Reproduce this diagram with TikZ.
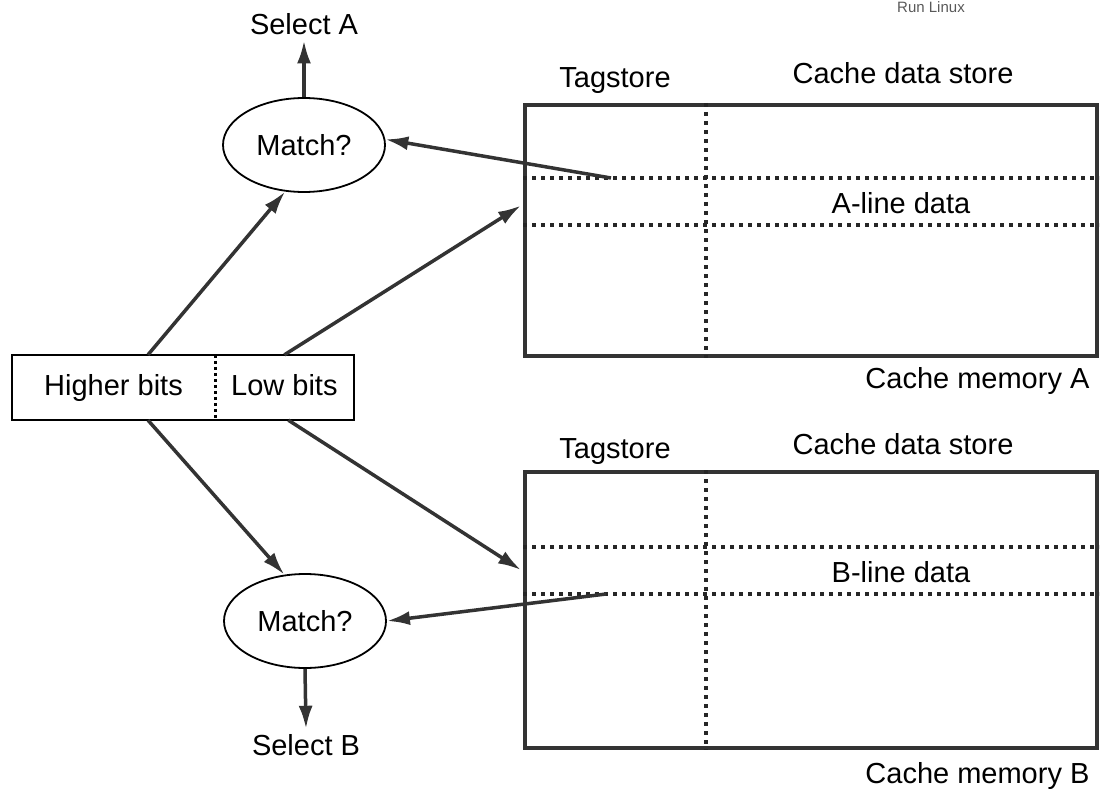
\documentclass[tikz,border=0pt]{standalone}
\usepackage{fontspec}
\setmainfont{Liberation Sans}
\usetikzlibrary{arrows,arrows.meta,shapes,positioning,calc}

\begin{document}
\begin{tikzpicture}[x=1pt,y=-1pt,
	every node/.style={font=\fontsize{29}{34}\selectfont},
	conn/.style={-{Latex[length=23pt,width=14pt]},line width=3.5pt,draw=black!80},
	cachebox/.style={draw=black!80,line width=4pt,minimum width=572pt,inner sep=0pt},
	dotline/.style={line width=4pt,draw=black!85,dash pattern=on 4pt off 5pt},
	matchnode/.style={ellipse,draw,line width=1.8pt,minimum width=162pt,minimum height=94pt,inner sep=0pt},
	bitnode/.style={minimum height=65pt,inner sep=0pt,text height=21pt,text depth=6pt}]
	
	\useasboundingbox (0,0) rectangle (1101,789);
	
	% the two cache memories
	\node[cachebox,minimum height=251pt] (cacheA) at (811,230.5) {};
	\node[cachebox,minimum height=276pt] (cacheB) at (811,610) {};
	
	% tag / data split and the selected line
	\draw[dotline] ($(cacheA.north west)+(183,0)$) -- ($(cacheA.south west)+(183,0)$);
	\draw[dotline] ($(cacheA.north west)+(0,75)$) -- ($(cacheA.north east)+(0,75)$);
	\draw[dotline] ($(cacheA.north west)+(0,122)$) -- ($(cacheA.north east)+(0,122)$);
	\draw[dotline] ($(cacheB.north west)+(183,0)$) -- ($(cacheB.south west)+(183,0)$);
	\draw[dotline] ($(cacheB.north west)+(0,77)$) -- ($(cacheB.north east)+(0,77)$);
	\draw[dotline] ($(cacheB.north west)+(0,124)$) -- ($(cacheB.north east)+(0,124)$);
	\coordinate (tagA) at ($(cacheA.north west)+(88,75)$);
	\coordinate (tagB) at ($(cacheB.north west)+(83,124)$);
	\coordinate (inA) at ($(cacheA.west)+(-2,-25)$);
	\coordinate (inB) at ($(cacheB.west)+(-2,-40)$);
	
	\node[anchor=base] (tagsA) at (615,88) {Tagstore};
	\node[anchor=base] (dataA) at (903,84) {Cache data store};
	\node (lineA) at (901,203.5) {A-line data};
	\node[anchor=base east] (memA) at (1093,388) {Cache memory A};
	\node[anchor=base] (tagsB) at (615,458) {Tagstore};
	\node[anchor=base] (dataB) at (903,454) {Cache data store};
	\node (lineB) at (901,572.5) {B-line data};
	\node[anchor=base east] (memB) at (1093,783) {Cache memory B};
	
	% address split into higher and low bits
	\node[bitnode,minimum width=203pt] (hb) at (113.5,387.5) {Higher bits};
	\node[bitnode,minimum width=138pt,right=0pt of hb] (lb) {Low bits};
	\draw[line width=1.8pt] (hb.north west) rectangle (lb.south east);
	\draw[line width=3pt,dash pattern=on 3pt off 3pt] (hb.north east) -- (hb.south east);
	
	% comparators
	\node[matchnode] (matchA) at (304,145) {Match?};
	\node[matchnode] (matchB) at (305,621) {Match?};
	\node[anchor=base,inner sep=5pt] (selA) at (304,35) {Select A};
	\node[anchor=base,inner sep=5pt] (selB) at (306,755) {Select B};
	
	\draw[conn] ($(hb.north)+(34.5,0)$) -- (matchA.248);
	\draw[conn] (lb.north) -- (inA);
	\draw[conn] (tagA) -- (matchA.4);
	\draw[conn] ($(hb.south)+(34.5,0)$) -- (matchB.114);
	\draw[conn] ($(lb.south)+(4,0)$) -- (inB);
	\draw[conn] (tagB) -- (matchB.east);
	\draw[conn] (matchA.north) -- (selA.south);
	\draw[conn] (matchB.south) -- (selB.north);
	
	\node[anchor=base,text=black!65,font=\fontsize{15}{17}\selectfont] (wm) at (931,13) {Run Linux};
	
\end{tikzpicture}
\end{document}
